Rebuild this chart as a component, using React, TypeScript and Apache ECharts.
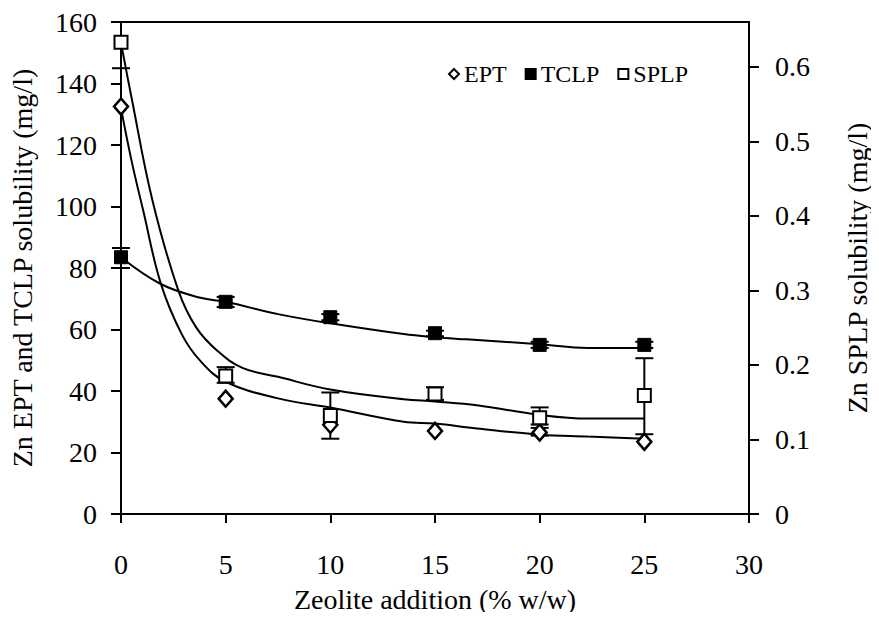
import React, { useEffect, useRef } from "react";
import * as echarts from "echarts";

const xValues = [0, 5, 10, 15, 20, 25];
const eptValues = [132.5, 37.5, 29, 27, 26.5, 23.5];
const tclpValues = [83.5, 69, 64, 58.8, 55, 55];
const splpValues = [0.633, 0.185, 0.132, 0.161, 0.129, 0.159];

const tclpErrors = [
  [0, 80, 86.5],
  [5, 67.3, 70.6],
  [10, 63, 65],
  [15, 57.8, 59.6],
  [20, 54, 56],
  [25, 54, 56],
];
const eptErrors = [[20, 25.5, 28]];
const splpErrors = [
  [0, 0.598, 0.66],
  [5, 0.176, 0.197],
  [10, 0.101, 0.163],
  [15, 0.153, 0.17],
  [20, 0.12, 0.143],
  [25, 0.107, 0.209],
];

const eptFit = [
  [0, 132], [0.5, 115], [1.05, 99], [1.9, 75], [2.9, 58.5], [3.8, 49.7], [5, 43],
  [7.5, 37.6], [10, 34.6], [13.5, 30], [15, 29.4], [17, 27.8], [20, 25.8], [22.3, 25.2], [25, 24.5],
];
const tclpFit = [
  [0, 83.5], [1.9, 74.8], [3.8, 70.3], [5, 69], [7.5, 65], [10, 62], [13.5, 58.5],
  [15, 57.5], [16.5, 56.8], [20, 55.2], [22.3, 54], [25, 54],
];
const splpFit = [
  [0, 0.632], [0.5, 0.559], [1.5, 0.421], [2.75, 0.299], [3.6, 0.25], [4.6, 0.219], [5.8, 0.196],
  [7.5, 0.184], [10, 0.167], [13.5, 0.154], [15, 0.151], [17, 0.146], [20, 0.133], [22.3, 0.128], [25, 0.128],
];

const leftTicks = [0, 20, 40, 60, 80, 100, 120, 140, 160];
const rightTicks = [0, 0.1, 0.2, 0.3, 0.4, 0.5, 0.6];

const FONT = "Liberation Serif";
const INK = "#000";

function errorSeries(data: number[][], yAxisIndex: number) {
  return {
    type: "custom",
    yAxisIndex,
    clip: false,
    z: 3,
    encode: { x: 0, y: [1, 2] },
    data,
    renderItem: (params: any, api: any) => {
      const x = api.value(0);
      const lo = api.value(1);
      const hi = api.value(2);
      const pLo = api.coord([x, lo]);
      const pHi = api.coord([x, hi]);
      const w = 9;
      const style = { stroke: INK, lineWidth: 2 };
      return {
        type: "group",
        children: [
          { type: "line", shape: { x1: pLo[0], y1: pLo[1], x2: pHi[0], y2: pHi[1] }, style },
          { type: "line", shape: { x1: pLo[0] - w, y1: pLo[1], x2: pLo[0] + w, y2: pLo[1] }, style },
          { type: "line", shape: { x1: pHi[0] - w, y1: pHi[1], x2: pHi[0] + w, y2: pHi[1] }, style },
        ],
      };
    },
  };
}

function fitSeries(name: string, data: number[][], yAxisIndex: number) {
  return {
    name,
    type: "line",
    yAxisIndex,
    data,
    smooth: 0.4,
    showSymbol: false,
    symbol: "none",
    z: 2,
    lineStyle: { color: INK, width: 2 },
  };
}

export default function App() {
  const ref = useRef<HTMLDivElement>(null);
  useEffect(() => {
    if (!ref.current) return;
    const chart = echarts.init(ref.current, null, { renderer: "svg" });
    chart.setOption({
      animation: false,
      backgroundColor: "#fff",
      grid: {
        left: 120,
        right: 125,
        top: 22,
        bottom: 106,
        show: true,
        borderColor: INK,
        borderWidth: 2,
        backgroundColor: "transparent",
      },
      legend: {
        data: ["EPT", "TCLP", "SPLP"],
        left: 443,
        top: 57,
        itemWidth: 10,
        itemHeight: 10,
        itemGap: 18,
        textStyle: { fontFamily: FONT, fontSize: 24, color: INK },
      },
      xAxis: {
        type: "value",
        min: 0,
        max: 30,
        interval: 5,
        name: "Zeolite addition (% w/w)",
        nameLocation: "middle",
        nameGap: 71,
        nameTextStyle: { fontFamily: FONT, fontSize: 28, color: INK },
        axisLine: { show: true, lineStyle: { color: INK, width: 2 } },
        axisTick: { show: true, length: 9, lineStyle: { color: INK, width: 2 } },
        axisLabel: { margin: 36, fontFamily: FONT, fontSize: 28, color: INK },
        splitLine: { show: false },
      },
      yAxis: [
        {
          type: "value",
          min: 0,
          max: 160,
          interval: 20,
          name: "Zn EPT and TCLP solubility (mg/l)",
          nameLocation: "middle",
          nameGap: 85,
          nameTextStyle: { fontFamily: FONT, fontSize: 28, color: INK },
          axisLine: { show: true, lineStyle: { color: INK, width: 2 } },
          axisTick: { show: true, length: 10, lineStyle: { color: INK, width: 2 } },
          axisLabel: {
            margin: 24,
            formatter: "{a|{value}}",
            rich: { a: { fontFamily: FONT, fontSize: 28, color: INK } },
          },
          splitLine: { show: false },
        },
        {
          type: "value",
          min: 0,
          max: 0.66,
          interval: 0.1,
          position: "right",
          name: "Zn SPLP solubility (mg/l)",
          nameLocation: "middle",
          nameGap: 94,
          nameRotate: 90,
          nameTextStyle: { fontFamily: FONT, fontSize: 28, color: INK },
          axisLine: { show: true, lineStyle: { color: INK, width: 2 } },
          axisTick: { show: true, length: 10, lineStyle: { color: INK, width: 2 }, customValues: rightTicks },
          axisLabel: { margin: 26, customValues: rightTicks, textStyle: { fontFamily: FONT, fontSize: 28, color: INK } },
          splitLine: { show: false },
        },
      ],
      series: [
        fitSeries("EPT fit", eptFit, 0),
        fitSeries("TCLP fit", tclpFit, 0),
        fitSeries("SPLP fit", splpFit, 1),
        errorSeries(tclpErrors, 0),
        errorSeries(eptErrors, 0),
        errorSeries(splpErrors, 1),
        {
          name: "EPT",
          type: "scatter",
          yAxisIndex: 0,
          symbol: "diamond",
          symbolSize: [14, 16],
          clip: false,
          z: 5,
          itemStyle: { color: "#fff", borderColor: INK, borderWidth: 2.5, opacity: 1 },
          data: xValues.map((x, i) => [x, eptValues[i]]),
        },
        {
          name: "TCLP",
          type: "scatter",
          yAxisIndex: 0,
          symbol: "rect",
          symbolSize: 13,
          clip: false,
          z: 5,
          itemStyle: { color: INK, borderColor: INK, borderWidth: 1, opacity: 1 },
          data: xValues.map((x, i) => [x, tclpValues[i]]),
        },
        {
          name: "SPLP",
          type: "scatter",
          yAxisIndex: 1,
          symbol: "rect",
          symbolSize: 13,
          clip: false,
          z: 5,
          itemStyle: { color: "#fff", borderColor: INK, borderWidth: 2, opacity: 1 },
          data: xValues.map((x, i) => [x, splpValues[i]]),
        },
      ],
    });
    return () => chart.dispose();
  }, []);
  return <div ref={ref} style={{ width: 879, height: 620, margin: -8 }} />;
}
